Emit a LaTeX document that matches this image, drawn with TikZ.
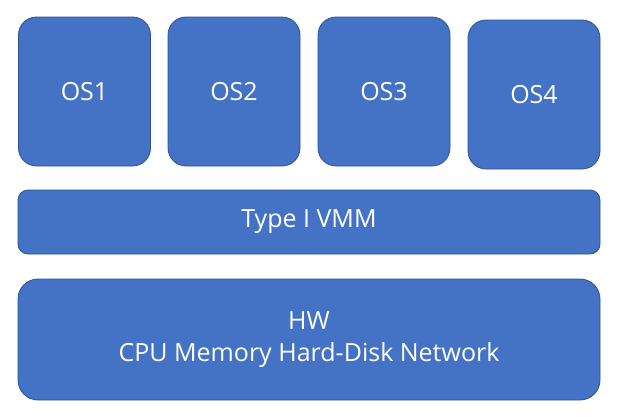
\documentclass[tikz,border=0pt]{standalone}
\usepackage{fontspec}
\setmainfont{Open Sans}
\definecolor{boxfill}{HTML}{4472C4}
\definecolor{boxline}{HTML}{2F528F}
\tikzset{
    layer/.style={draw=boxline, fill=boxfill, line width=0.8pt, text=white, font=\fontsize{25}{32}\selectfont, inner sep=0pt, align=center},
}
\begin{document}
\begin{tikzpicture}[x=1pt, y=-1pt]
        \useasboundingbox (0, 0) rectangle (618, 416);
        \foreach \i/\x/\y in {1/84.5/91.5, 2/234/91.5, 3/384/91.5, 4/534/94.5} {
            \node[layer, rounded corners=18pt, minimum width=132pt, minimum height=149pt] (os\i) at (\x, \y) {OS\i};
        }
        \node[layer, rounded corners=10pt, minimum width=582pt, minimum height=64pt] (vmm) at (309, 222) {Type I VMM};
        \node[layer, rounded corners=20pt, minimum width=582pt, minimum height=121pt] (hw) at (309, 339.5) {HW\\CPU Memory Hard-Disk Network};
    \end{tikzpicture}
\end{document}
